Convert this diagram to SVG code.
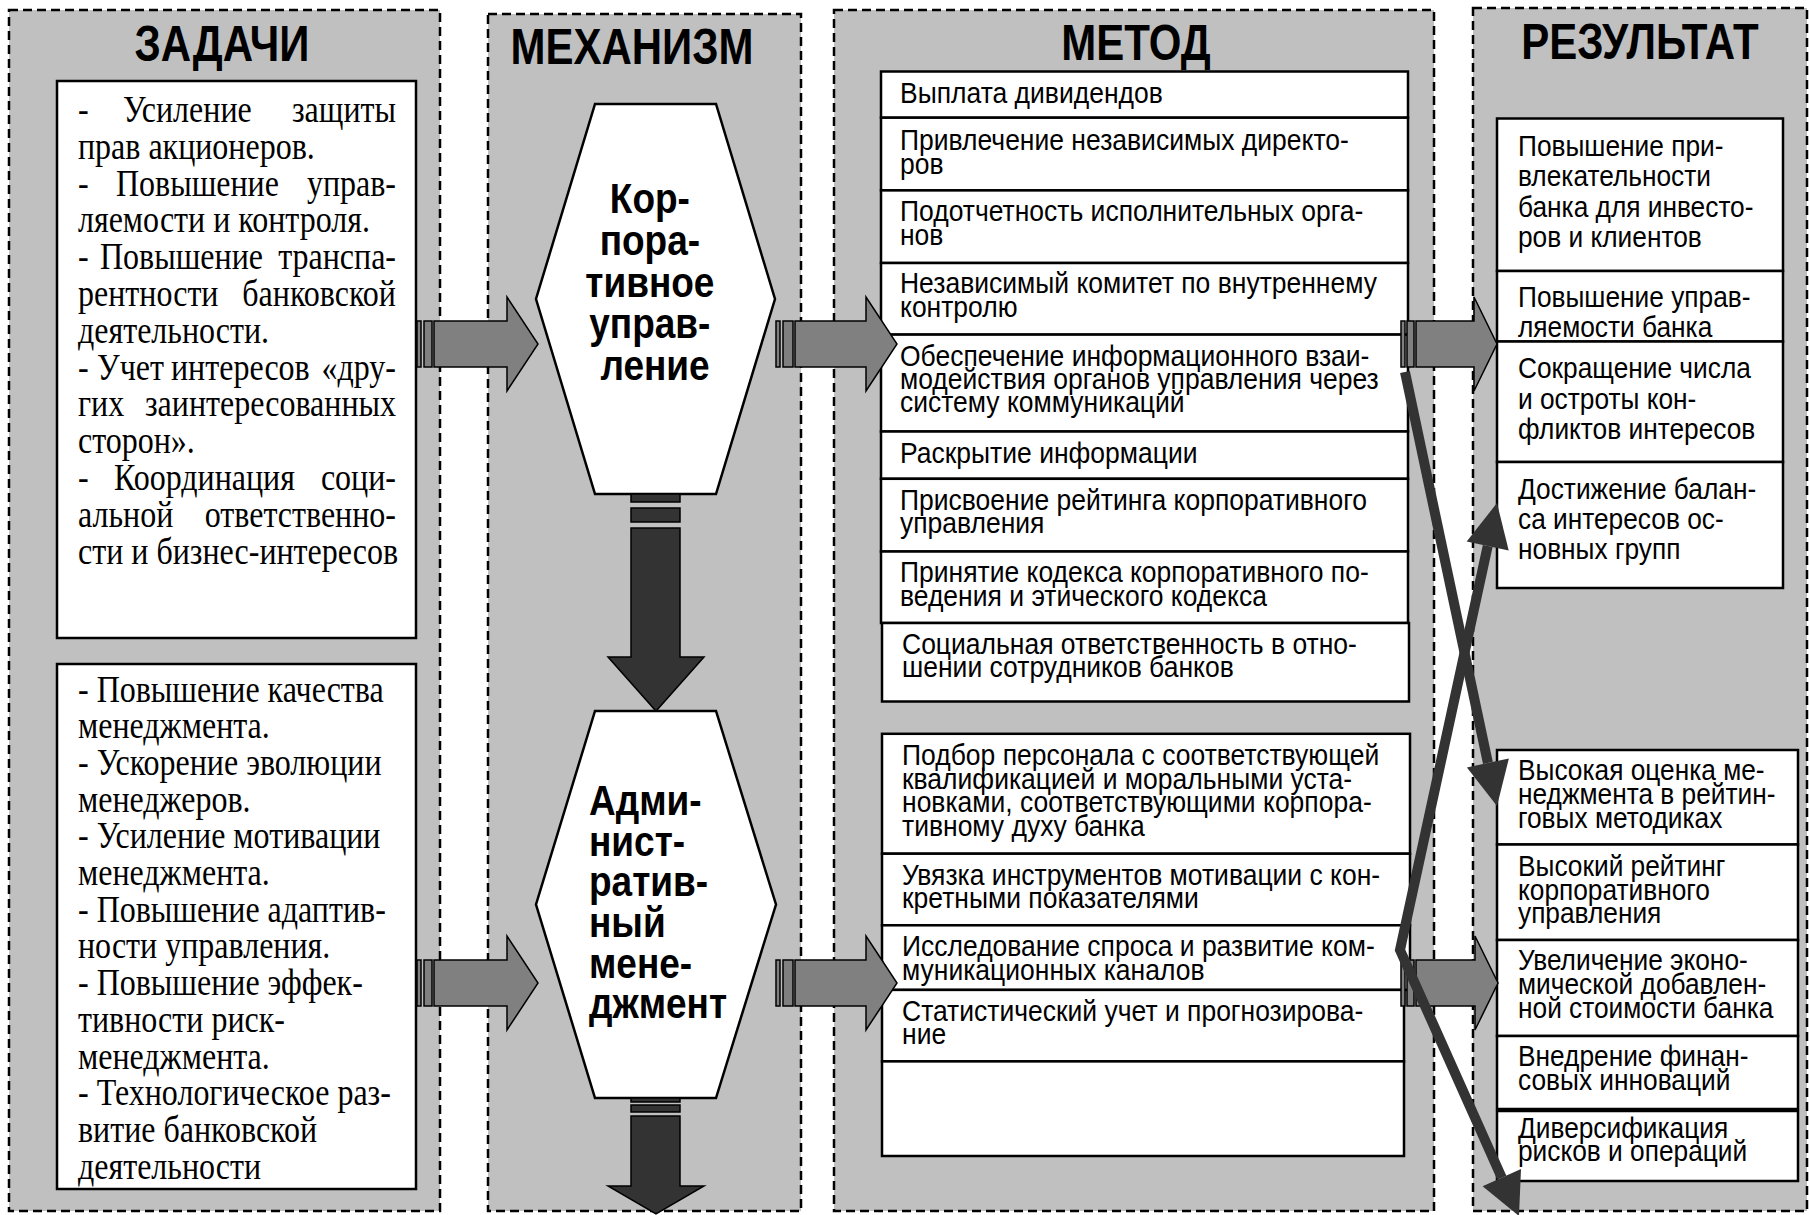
<svg xmlns="http://www.w3.org/2000/svg" width="1809" height="1215" viewBox="0 0 1809 1215">
  <style>
    .panel { fill: #c0c0c0; stroke: #000; stroke-width: 2.5; stroke-dasharray: 9 5; }
    .box { fill: #fff; stroke: #000; stroke-width: 2.5; }
    .hex { fill: #fff; stroke: #000; stroke-width: 2.5; stroke-linejoin: miter; }
    .title { font-family: "Liberation Sans", Arial, sans-serif; font-weight: bold; font-size: 42px; fill: #000; text-anchor: middle; }
    .hextxt { font-family: "Liberation Sans", Arial, sans-serif; font-weight: bold; font-size: 37px; fill: #000; }
    .serif { font-family: "Liberation Serif", "Times New Roman", serif; font-size: 32px; fill: #000; }
    .meth { font-family: "Liberation Sans", Arial, sans-serif; font-size: 26.5px; fill: #000; }
    .res { font-family: "Liberation Sans", Arial, sans-serif; font-size: 26.3px; fill: #000; }
    .garrow { fill: #808080; stroke: #000; stroke-width: 1.5; stroke-linejoin: miter; }
    .darrow { fill: #333; stroke: #000; stroke-width: 1.5; stroke-linejoin: miter; }
    .dline { fill: none; stroke: #333; stroke-width: 10; stroke-linejoin: miter; }
    .dhead { fill: #333; }
  </style>

  <!-- column panels -->
  <g id="panels">
    <rect class="panel" x="9" y="10" width="431" height="1201"/>
    <rect class="panel" x="488" y="14" width="313" height="1197"/>
    <rect class="panel" x="834" y="10" width="600" height="1201"/>
    <rect class="panel" x="1473" y="8" width="334" height="1203"/>
  </g>

  <!-- column headings (text frames stretched vertically) -->
  <g id="headings" transform="scale(1,1.17)">
    <text class="title" x="222" y="52.1">ЗАДАЧИ</text>
    <text class="title" x="632" y="54.7">МЕХАНИЗМ</text>
    <text class="title" x="1136" y="51.3">МЕТОД</text>
    <text class="title" x="1640" y="50.4">РЕЗУЛЬТАТ</text>
  </g>

  <!-- tasks -->
  <g id="task-corporate">
    <rect class="box" x="57" y="81" width="359" height="557"/>
    <g transform="scale(1,1.17)">
      <text class="serif"><tspan x="78" y="104.3">-</tspan><tspan x="123" y="104.3">Усиление</tspan><tspan x="396" y="104.3" text-anchor="end">защиты</tspan></text>
      <text class="serif" x="78" y="135.7">прав акционеров.</text>
      <text class="serif"><tspan x="78" y="167.2">-</tspan><tspan x="116" y="167.2">Повышение</tspan><tspan x="396" y="167.2" text-anchor="end">управ-</tspan></text>
      <text class="serif" x="78" y="198.6">ляемости и контроля.</text>
      <text class="serif"><tspan x="78" y="230.1">-</tspan><tspan x="100" y="230.1">Повышение</tspan><tspan x="396" y="230.1" text-anchor="end">транспа-</tspan></text>
      <text class="serif"><tspan x="78" y="261.5">рентности</tspan><tspan x="396" y="261.5" text-anchor="end">банковской</tspan></text>
      <text class="serif" x="78" y="293">деятельности.</text>
      <text class="serif"><tspan x="78" y="324.4">-</tspan><tspan x="97" y="324.4">Учет</tspan><tspan x="171" y="324.4">интересов</tspan><tspan x="396" y="324.4" text-anchor="end">«дру-</tspan></text>
      <text class="serif"><tspan x="78" y="355.9">гих</tspan><tspan x="396" y="355.9" text-anchor="end">заинтересованных</tspan></text>
      <text class="serif" x="78" y="387.3">сторон».</text>
      <text class="serif"><tspan x="78" y="418.8">-</tspan><tspan x="114" y="418.8">Координация</tspan><tspan x="396" y="418.8" text-anchor="end">соци-</tspan></text>
      <text class="serif"><tspan x="78" y="450.3">альной</tspan><tspan x="396" y="450.3" text-anchor="end">ответственно-</tspan></text>
      <text class="serif" x="78" y="481.7">сти и бизнес-интересов</text>
    </g>
  </g>

  <g id="task-management">
    <rect class="box" x="57" y="664" width="359" height="525"/>
    <g transform="scale(1,1.17)">
      <text class="serif">
        <tspan x="78" y="599.6">- Повышение качества</tspan>
        <tspan x="78" y="631">менеджмента.</tspan>
        <tspan x="78" y="662.3">- Ускорение эволюции</tspan>
        <tspan x="78" y="693.7">менеджеров.</tspan>
        <tspan x="78" y="725.1">- Усиление мотивации</tspan>
        <tspan x="78" y="756.4">менеджмента.</tspan>
        <tspan x="78" y="787.8">- Повышение адаптив-</tspan>
        <tspan x="78" y="819.2">ности управления.</tspan>
        <tspan x="78" y="850.5">- Повышение эффек-</tspan>
        <tspan x="78" y="881.9">тивности риск-</tspan>
        <tspan x="78" y="913.3">менеджмента.</tspan>
        <tspan x="78" y="944.6">- Технологическое раз-</tspan>
        <tspan x="78" y="976">витие банковской</tspan>
        <tspan x="78" y="1007.4">деятельности</tspan>
      </text>
    </g>
  </g>

  <!-- mechanisms -->
  <g id="mech-corporate">
    <polygon class="hex" points="595,104 716,104 775,299 716,494 595,494 536,299"/>
    <g transform="scale(1,1.17)">
      <text class="hextxt" text-anchor="middle">
        <tspan x="655" y="182.1">Кор-</tspan>
        <tspan x="655" y="217.8">пора-</tspan>
        <tspan x="655" y="253.5">тивное</tspan>
        <tspan x="655" y="289.2">управ-</tspan>
        <tspan x="655" y="325">ление</tspan>
      </text>
    </g>
  </g>

  <g id="mech-admin">
    <polygon class="hex" points="595,711 716,711 776,904.5 716,1098 595,1098 536,904.5"/>
    <g transform="scale(1,1.17)">
      <text class="hextxt">
        <tspan x="589" y="696.6">Адми-</tspan>
        <tspan x="589" y="731.4">нист-</tspan>
        <tspan x="589" y="766.2">ратив-</tspan>
        <tspan x="589" y="801">ный</tspan>
        <tspan x="589" y="835.8">мене-</tspan>
        <tspan x="589" y="870.5">джмент</tspan>
      </text>
    </g>
  </g>

  <!-- methods: corporate governance -->
  <g id="methods-corporate">
    <rect class="box" x="881" y="71.5" width="527" height="46.2"/>
    <rect class="box" x="881" y="117.7" width="527" height="72.7"/>
    <rect class="box" x="881" y="190.4" width="527" height="72.6"/>
    <rect class="box" x="881" y="263" width="527" height="71.6"/>
    <rect class="box" x="881" y="334.6" width="527" height="96.9"/>
    <rect class="box" x="881" y="431.5" width="527" height="47.3"/>
    <rect class="box" x="881" y="478.8" width="527" height="72.7"/>
    <rect class="box" x="881" y="551.5" width="527" height="71.5"/>
    <rect class="box" x="882" y="623" width="527" height="78.5"/>
    <g transform="scale(1,1.1)">
      <text class="meth" x="900" y="93.2">Выплата дивидендов</text>
      <text class="meth"><tspan x="900" y="136.4">Привлечение независимых директо-</tspan><tspan x="900" y="158.2">ров</tspan></text>
      <text class="meth"><tspan x="900" y="200.9">Подотчетность исполнительных орга-</tspan><tspan x="900" y="222.7">нов</tspan></text>
      <text class="meth"><tspan x="900" y="266.8">Независимый комитет по внутреннему</tspan><tspan x="900" y="288.2">контролю</tspan></text>
      <text class="meth"><tspan x="900" y="332.3">Обеспечение информационного взаи-</tspan><tspan x="900" y="353.6">модействия органов управления через</tspan><tspan x="900" y="375">систему коммуникаций</tspan></text>
      <text class="meth" x="900" y="420.5">Раскрытие информации</text>
      <text class="meth"><tspan x="900" y="463.6">Присвоение рейтинга корпоративного</tspan><tspan x="900" y="485">управления</tspan></text>
      <text class="meth"><tspan x="900" y="529.5">Принятие кодекса корпоративного по-</tspan><tspan x="900" y="550.9">ведения и этического кодекса</tspan></text>
      <text class="meth"><tspan x="902" y="594.5">Социальная ответственность в отно-</tspan><tspan x="902" y="615.9">шении сотрудников банков</tspan></text>
    </g>
  </g>

  <!-- methods: administrative management -->
  <g id="methods-admin">
    <rect class="box" x="882" y="733.8" width="528" height="119.9"/>
    <rect class="box" x="882" y="853.7" width="528" height="71.6"/>
    <rect class="box" x="882" y="925.3" width="528" height="64.6"/>
    <rect class="box" x="882" y="989.9" width="522" height="71.5"/>
    <rect class="box" x="882" y="1061.4" width="522" height="94.6"/>
    <g transform="scale(1,1.1)">
      <text class="meth"><tspan x="902" y="695.5">Подбор персонала с соответствующей</tspan><tspan x="902" y="717.3">квалификацией и моральными уста-</tspan><tspan x="902" y="738.6">новками, соответствующими корпора-</tspan><tspan x="902" y="760">тивному духу банка</tspan></text>
      <text class="meth"><tspan x="902" y="804.5">Увязка инструментов мотивации с кон-</tspan><tspan x="902" y="825.9">кретными показателями</tspan></text>
      <text class="meth"><tspan x="902" y="869.1">Исследование спроса и развитие ком-</tspan><tspan x="902" y="890.5">муникационных каналов</tspan></text>
      <text class="meth"><tspan x="902" y="928.2">Статистический учет и прогнозирова-</tspan><tspan x="902" y="949.5">ние</tspan></text>
    </g>
  </g>

  <!-- results: corporate governance -->
  <g id="results-corporate">
    <rect class="box" x="1497" y="118.5" width="286" height="152.5"/>
    <rect class="box" x="1497" y="271" width="286" height="70.5"/>
    <rect class="box" x="1497" y="341.5" width="286" height="120.5"/>
    <rect class="box" x="1497" y="462" width="286" height="126"/>
    <g transform="scale(1,1.1)">
      <text class="res"><tspan x="1518" y="141.8">Повышение при-</tspan><tspan x="1518" y="169.5">влекательности</tspan><tspan x="1518" y="197.3">банка для инвесто-</tspan><tspan x="1518" y="225">ров и клиентов</tspan></text>
      <text class="res"><tspan x="1518" y="279.5">Повышение управ-</tspan><tspan x="1518" y="306.4">ляемости банка</tspan></text>
      <text class="res"><tspan x="1518" y="344.1">Сокращение числа</tspan><tspan x="1518" y="371.8">и остроты кон-</tspan><tspan x="1518" y="399.5">фликтов интересов</tspan></text>
      <text class="res"><tspan x="1518" y="453.2">Достижение балан-</tspan><tspan x="1518" y="480.9">са интересов ос-</tspan><tspan x="1518" y="508.6">новных групп</tspan></text>
    </g>
  </g>

  <!-- results: administrative management -->
  <g id="results-admin">
    <rect class="box" x="1497" y="750" width="301" height="94.5"/>
    <rect class="box" x="1497" y="844.5" width="301" height="95.5"/>
    <rect class="box" x="1497" y="940" width="301" height="96"/>
    <rect class="box" x="1497" y="1036" width="301" height="73"/>
    <rect class="box" x="1497" y="1111" width="301" height="70"/>
    <g transform="scale(1,1.1)">
      <text class="res"><tspan x="1518" y="709.1">Высокая оценка ме-</tspan><tspan x="1518" y="730.9">неджмента в рейтин-</tspan><tspan x="1518" y="752.7">говых методиках</tspan></text>
      <text class="res"><tspan x="1518" y="796.4">Высокий рейтинг</tspan><tspan x="1518" y="818.2">корпоративного</tspan><tspan x="1518" y="839.5">управления</tspan></text>
      <text class="res"><tspan x="1518" y="881.8">Увеличение эконо-</tspan><tspan x="1518" y="903.6">мической добавлен-</tspan><tspan x="1518" y="925.5">ной стоимости банка</tspan></text>
      <text class="res"><tspan x="1518" y="969.5">Внедрение финан-</tspan><tspan x="1518" y="990.9">совых инноваций</tspan></text>
      <text class="res"><tspan x="1518" y="1034.5">Диверсификация</tspan><tspan x="1518" y="1055.5">рисков и операций</tspan></text>
    </g>
  </g>

  <!-- connectors -->
  <g id="connectors">
    <!-- striped block arrows, left to right -->
    <g id="arrow-task1-mech1">
      <rect class="garrow" x="417" y="321" width="4" height="46"/>
      <rect class="garrow" x="424" y="321" width="8" height="46"/>
      <polygon class="garrow" points="434,321 507,321 507,297 538,344 507,391 507,367 434,367"/>
    </g>
    <g id="arrow-task2-mech2">
      <rect class="garrow" x="417" y="960" width="4" height="46"/>
      <rect class="garrow" x="424" y="960" width="8" height="46"/>
      <polygon class="garrow" points="434,960 507,960 507,936 538,983 507,1030 507,1006 434,1006"/>
    </g>
    <g id="arrow-mech1-meth1">
      <rect class="garrow" x="776" y="321" width="4" height="46"/>
      <rect class="garrow" x="783" y="321" width="10" height="46"/>
      <polygon class="garrow" points="795,321 866,321 866,297 897,344 866,391 866,367 795,367"/>
    </g>
    <g id="arrow-mech2-meth2">
      <rect class="garrow" x="776" y="960" width="4" height="46"/>
      <rect class="garrow" x="783" y="960" width="10" height="46"/>
      <polygon class="garrow" points="795,960 866,960 866,936 897,983 866,1030 866,1006 795,1006"/>
    </g>
    <g id="arrow-meth1-res1">
      <rect class="garrow" x="1401" y="321" width="4" height="46"/>
      <rect class="garrow" x="1407" y="321" width="7" height="46"/>
      <polygon class="garrow" points="1416,321 1474,321 1474,297 1497,344 1474,391 1474,367 1416,367"/>
    </g>
    <g id="arrow-meth2-res2">
      <rect class="garrow" x="1401" y="960" width="4" height="46"/>
      <rect class="garrow" x="1407" y="960" width="7" height="46"/>
      <polygon class="garrow" points="1416,960 1475,960 1475,936 1498,983 1475,1030 1475,1006 1416,1006"/>
    </g>

    <!-- striped block arrows, downward -->
    <g id="arrow-mech1-mech2">
      <rect class="darrow" x="631" y="494" width="49" height="8"/>
      <rect class="darrow" x="631" y="508" width="49" height="14"/>
      <polygon class="darrow" points="631,528 680,528 680,657 704,657 656,711 608,657 631,657"/>
    </g>
    <g id="arrow-mech2-out">
      <rect class="darrow" x="631" y="1098" width="49" height="4"/>
      <rect class="darrow" x="631" y="1105" width="49" height="7"/>
      <polygon class="darrow" points="631,1116 680,1116 680,1186 704,1186 656,1214 608,1186 631,1186"/>
    </g>

    <!-- crossing links between method and result lists -->
    <g id="link-cross-down">
      <path class="dline" d="M1405,372 L1487.9,762.9"/>
      <polygon class="dhead" points="1497,806 1508.9,758.4 1466.9,767.4"/>
    </g>
    <g id="link-fork">
      <path class="dline" d="M1487.7,546 L1400,950 L1501.8,1177.7"/>
      <polygon class="dhead" points="1497,503 1508.7,550.6 1466.7,541.4"/>
      <polygon class="dhead" points="1519,1216 1521,1169.1 1482.6,1186.3"/>
    </g>
  </g>
</svg>
